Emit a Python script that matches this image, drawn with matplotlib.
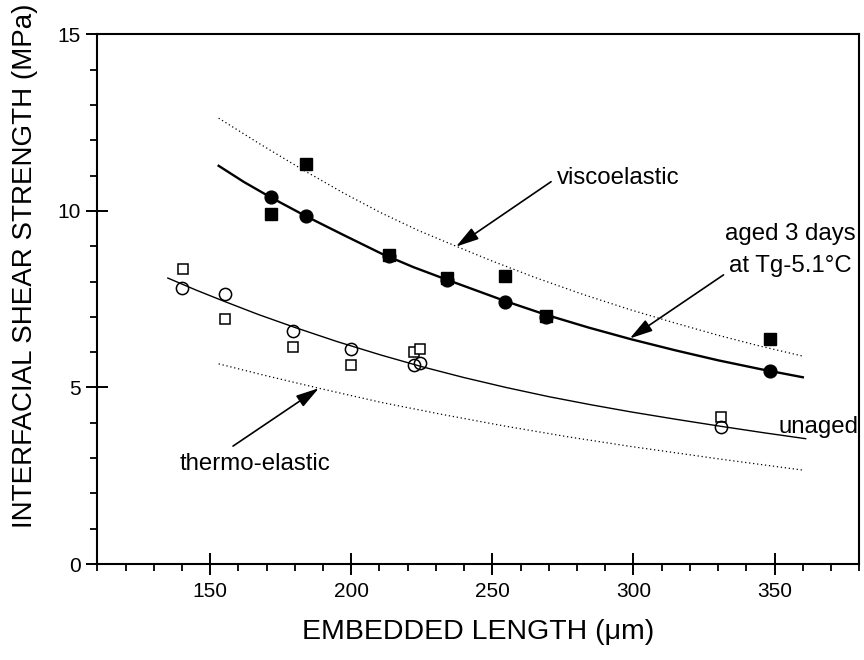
import matplotlib
matplotlib.use("Agg")
import matplotlib.pyplot as plt
from matplotlib.ticker import MultipleLocator

plt.rcParams['font.family'] = ['Liberation Sans', 'DejaVu Sans']

# ---- data ----
aged_sq_x = [171.6, 184.1, 213.2, 233.9, 254.5, 269.1, 348.5]
aged_sq_y = [9.92, 11.33, 8.76, 8.09, 8.17, 7.03, 6.36]
aged_ci_x = [171.6, 184.1, 213.2, 233.9, 254.5, 269.1, 348.5]
aged_ci_y = [10.41, 9.87, 8.72, 8.05, 7.43, 7.00, 5.47]

unaged_sq_x = [140.2, 155.1, 179.5, 199.9, 222.1, 224.4, 331.0]
unaged_sq_y = [8.37, 6.94, 6.14, 5.64, 6.00, 6.08, 4.17]
unaged_ci_x = [140.1, 155.3, 179.5, 199.9, 222.1, 224.4, 331.0]
unaged_ci_y = [7.82, 7.66, 6.61, 6.10, 5.64, 5.70, 3.89]

# fitted / model curves
aged_fit_x = [153, 162, 171.6, 184, 197, 210.5, 222, 234, 254.5, 269, 284,
              299, 315, 330, 345, 360]
aged_fit_y = [11.28, 10.82, 10.38, 9.85, 9.33, 8.80, 8.41, 8.05, 7.45, 7.06,
              6.70, 6.37, 6.05, 5.77, 5.52, 5.29]

unaged_fit_x = [135, 145, 155, 167, 179.7, 195, 210.5, 225, 240, 254.9, 270,
                285, 299, 315, 331, 346, 361]
unaged_fit_y = [8.10, 7.76, 7.44, 7.07, 6.71, 6.30, 5.92, 5.59, 5.28, 5.00,
                4.74, 4.51, 4.31, 4.10, 3.90, 3.72, 3.55]

visco_x = [153, 168, 183, 197, 210.5, 224, 237.5, 250, 265, 282, 299, 315,
           330, 345, 360]
visco_y = [12.63, 11.88, 11.16, 10.52, 9.95, 9.44, 8.99, 8.58, 8.12, 7.64,
           7.20, 6.82, 6.48, 6.17, 5.89]

thermo_x = [153, 170, 188.5, 210.5, 232, 254.9, 277, 299, 330, 360]
thermo_y = [5.67, 5.33, 4.98, 4.58, 4.24, 3.90, 3.60, 3.33, 2.98, 2.66]

x_ticks = [150, 200, 250, 300, 350]
y_ticks = [0, 5, 10, 15]

# ---- figure ----
fig = plt.figure(figsize=(8.64, 6.60), dpi=100)
ax = fig.add_axes([0.1126, 0.14545, 0.8819, 0.8023])

ax.plot(visco_x, visco_y, color='black', lw=0.9, linestyle=(0, (1, 2.2)), zorder=2)
ax.plot(thermo_x, thermo_y, color='black', lw=0.9, linestyle=(0, (1, 2.2)), zorder=2)
ax.plot(aged_fit_x, aged_fit_y, color='black', lw=1.7, zorder=2)
ax.plot(unaged_fit_x, unaged_fit_y, color='black', lw=1.0, zorder=2)

ax.plot(aged_sq_x, aged_sq_y, linestyle='none', marker='s', ms=8.2,
        mfc='black', mec='black', zorder=3)
ax.plot(aged_ci_x, aged_ci_y, linestyle='none', marker='o', ms=9.2,
        mfc='black', mec='black', zorder=3)
ax.plot(unaged_sq_x, unaged_sq_y, linestyle='none', marker='s', ms=7.8,
        mfc='white', mec='black', mew=1.1, zorder=3)
ax.plot(unaged_ci_x, unaged_ci_y, linestyle='none', marker='o', ms=8.8,
        mfc='none', mec='black', mew=1.1, zorder=3)

ax.set_xlim(110, 380)
ax.set_ylim(0, 15)
ax.set_xticks(x_ticks)
ax.set_yticks(y_ticks)
ax.xaxis.set_minor_locator(MultipleLocator(10))
ax.yaxis.set_minor_locator(MultipleLocator(1))
ax.tick_params(which='major', direction='inout', length=16, width=1.4,
               labelsize=15, top=False, right=False)
ax.tick_params(axis='x', which='major', pad=5)
ax.tick_params(axis='y', which='major', pad=4)
ax.tick_params(which='minor', direction='out', length=4.8, width=1.3,
               top=False, right=False)
for s in ax.spines.values():
    s.set_linewidth(1.5)

fig.text(25 / 864, 1 - 266 / 660, 'INTERFACIAL SHEAR STRENGTH (MPa)',
         rotation=90, ha='center', va='center', fontsize=20)
fig.text(478 / 864, (660 - 639) / 660, 'EMBEDDED LENGTH (\u03bcm)',
         ha='center', va='baseline', fontsize=20.5)

# annotations
arrow = dict(arrowstyle='-|>,head_length=0.7,head_width=0.2', color='black',
             lw=1.2, shrinkA=0, shrinkB=0, mutation_scale=20)
ax.annotate('', xy=(237.1, 8.99), xytext=(270.8, 10.83), arrowprops=arrow)
ax.annotate('', xy=(188.5, 4.98), xytext=(158.1, 3.34), arrowprops=arrow)
ax.annotate('', xy=(298.7, 6.39), xytext=(331.9, 8.19), arrowprops=arrow)

ax.text(272.7, 10.76, 'viscoelastic', fontsize=17.3, ha='left', va='baseline')
ax.text(355.6, 9.19, 'aged 3 days', fontsize=17.3, ha='center', va='baseline')
ax.text(355.6, 8.27, 'at Tg-5.1\u00b0C', fontsize=17.3, ha='center', va='baseline')
ax.text(351.4, 3.70, 'unaged', fontsize=17.3, ha='left', va='baseline')
ax.text(139.1, 2.66, 'thermo-elastic', fontsize=17.3, ha='left', va='baseline')

fig.savefig('out.png', dpi=100)
